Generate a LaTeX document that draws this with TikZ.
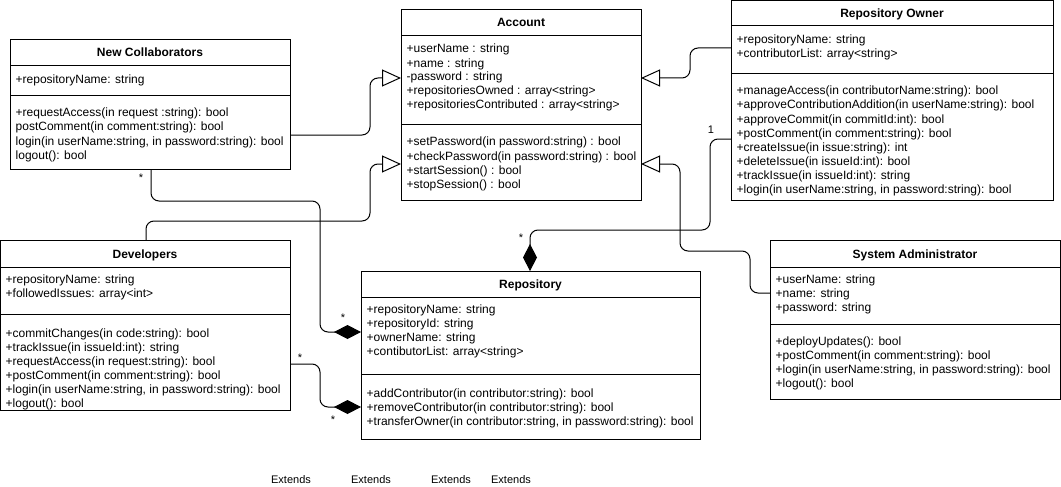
\documentclass[tikz,border=0pt]{standalone}
\usepackage{fontspec}
\setmainfont{Liberation Sans}
\usetikzlibrary{arrows.meta}

\tikzset{
  umlbox/.style={draw, line width=1pt, inner sep=0pt, outer sep=0pt, anchor=north west},
  divider/.style={line width=1pt},
  classtitle/.style={font=\fontsize{12}{14}\selectfont\bfseries, anchor=base, inner sep=0pt},
  member/.style={font=\fontsize{12}{14}\selectfont, anchor=base west, inner sep=0pt},
  conn/.style={line width=1pt, rounded corners=8pt},
  ext/.style={conn, -{Triangle[open, length=19pt, width=17pt]}},
  comp/.style={conn, {Diamond[length=27pt, width=14pt]}-},
  mult/.style={font=\fontsize{11}{13}\selectfont, inner sep=0pt},
}

% one member per line, 14pt apart, starting at the given baseline
\newcommand\classmembers[4]{%
  \foreach \txt [count=\k from 0] in {#4}{
    \node[member, name=#1-\k] at (#2, #3+14*\k) {\txt};
  }%
}

\begin{document}
\begin{tikzpicture}[x=1pt, y=-1pt]
\useasboundingbox (0,0) rectangle (1061,487);

% ---------- New Collaborators ----------
\node[umlbox, minimum width=280pt, minimum height=129pt] (nc) at (10,40) {};
\draw[divider] (nc.west |- 0,66) -- (nc.east |- 0,66);
\draw[divider] (nc.west |- 0,96) -- (nc.east |- 0,96);
\node[classtitle] (nc-title) at (150,57) {New Collaborators};
\classmembers{nc-a}{15.5}{84}{{+repositoryName: string}}
\classmembers{nc-m}{15.5}{117}{{+requestAccess(in request :string): bool},
  {postComment(in comment:string): bool},
  {login(in userName:string, in password:string): bool},
  {logout(): bool}}

% ---------- Account ----------
\node[umlbox, minimum width=240pt, minimum height=190pt] (acc) at (401,10) {};
\draw[divider] (acc.west |- 0,36) -- (acc.east |- 0,36);
\draw[divider] (acc.west |- 0,124) -- (acc.east |- 0,124);
\node[classtitle] (acc-title) at (521,27) {Account};
\classmembers{acc-a}{406.5}{53}{{+userName : string},
  {+name : string},
  {-password : string},
  {+repositoriesOwned : array<string>},
  {+repositoriesContributed : array<string>}}
\classmembers{acc-m}{406.5}{146}{{+setPassword(in password:string) : bool},
  {+checkPassword(in password:string) : bool},
  {+startSession() : bool},
  {+stopSession() : bool}}

% ---------- Repository Owner ----------
\node[umlbox, minimum width=322pt, minimum height=199pt] (ro) at (731,1) {};
\draw[divider] (ro.west |- 0,26) -- (ro.east |- 0,26);
\draw[divider] (ro.west |- 0,74) -- (ro.east |- 0,74);
\node[classtitle] (ro-title) at (892,18) {Repository Owner};
\classmembers{ro-a}{736.5}{44}{{+repositoryName: string},
  {+contributorList: array<string>}}
\classmembers{ro-m}{736.5}{95}{{+manageAccess(in contributorName:string): bool},
  {+approveContributionAddition(in userName:string): bool},
  {+approveCommit(in commitId:int): bool},
  {+postComment(in comment:string): bool},
  {+createIssue(in issue:string): int},
  {+deleteIssue(in issueId:int): bool},
  {+trackIssue(in issueId:int): string},
  {+login(in userName:string, in password:string): bool}}

% ---------- Developers ----------
\node[umlbox, minimum width=289.5pt, minimum height=170pt] (dev) at (0.5,240) {};
\draw[divider] (dev.west |- 0,267) -- (dev.east |- 0,267);
\draw[divider] (dev.west |- 0,314) -- (dev.east |- 0,314);
\node[classtitle] (dev-title) at (145,258) {Developers};
\classmembers{dev-a}{5.5}{283}{{+repositoryName: string},
  {+followedIssues: array<int>}}
\classmembers{dev-m}{5.5}{337}{{+commitChanges(in code:string): bool},
  {+trackIssue(in issueId:int): string},
  {+requestAccess(in request:string): bool},
  {+postComment(in comment:string): bool},
  {+login(in userName:string, in password:string): bool},
  {+logout(): bool}}

% ---------- Repository ----------
\node[umlbox, minimum width=339pt, minimum height=168pt] (repo) at (361,271) {};
\draw[divider] (repo.west |- 0,297) -- (repo.east |- 0,297);
\draw[divider] (repo.west |- 0,374) -- (repo.east |- 0,374);
\node[classtitle] (repo-title) at (530.5,288) {Repository};
\classmembers{repo-a}{366.5}{313}{{+repositoryName: string},
  {+repositoryId: string},
  {+ownerName: string},
  {+contibutorList: array<string>}}
\classmembers{repo-m}{366.5}{397}{{+addContributor(in contributor:string): bool},
  {+removeContributor(in contributor:string): bool},
  {+transferOwner(in contributor:string, in password:string): bool}}

% ---------- System Administrator ----------
\node[umlbox, minimum width=290pt, minimum height=159pt] (sa) at (770,240) {};
\draw[divider] (sa.west |- 0,267) -- (sa.east |- 0,267);
\draw[divider] (sa.west |- 0,324) -- (sa.east |- 0,324);
\node[classtitle] (sa-title) at (915,258) {System Administrator};
\classmembers{sa-a}{775.5}{283}{{+userName: string},
  {+name: string},
  {+password: string}}
\classmembers{sa-m}{775.5}{345}{{+deployUpdates(): bool},
  {+postComment(in comment:string): bool},
  {+login(in userName:string, in password:string): bool},
  {+logout(): bool}}

% ---------- generalizations ----------
\draw[ext] (nc.east |- 0,135) -- (370,135) -- (370,78) -- (acc.west |- 0,78);
\draw[ext] (dev.north -| 146,0) -- (146,221) -- (370,221) -- (370,164) -- (acc.west |- 0,164);
\draw[ext] (ro.west |- 0,48) -- (690,48) -- (690,78) -- (acc.east |- 0,78);
\draw[ext] (sa.west |- 0,293) -- (750,293) -- (750,251) -- (680,251) -- (680,164) -- (acc.east |- 0,164);

% ---------- compositions ----------
\draw[comp] (repo.north -| 530,0) -- (530,230) -- (710,230) -- (710,139) -- (ro.west |- 0,139);
\draw[comp] (repo.west |- 0,332) -- (320,332) -- (320,201) -- (151,201) -- (nc.south -| 151,0);
\draw[comp] (repo.west |- 0,407) -- (320,407) -- (320,364) -- (dev.east |- 0,364);

% ---------- multiplicities ----------
\node[mult] (m-nc) at (141,178) {*};
\node[mult] (m-repo-nc) at (343,318) {*};
\node[mult] (m-dev) at (300,358) {*};
\node[mult] (m-repo-dev) at (333,420) {*};
\node[mult] (m-ro) at (711,130) {1};
\node[mult] (m-repo-ro) at (521,238) {*};

% ---------- relation labels ----------
\node[mult] (ext-1) at (291,480) {Extends};
\node[mult] (ext-2) at (371,480) {Extends};
\node[mult] (ext-3) at (451,480) {Extends};
\node[mult] (ext-4) at (511,480) {Extends};

\end{tikzpicture}
\end{document}
